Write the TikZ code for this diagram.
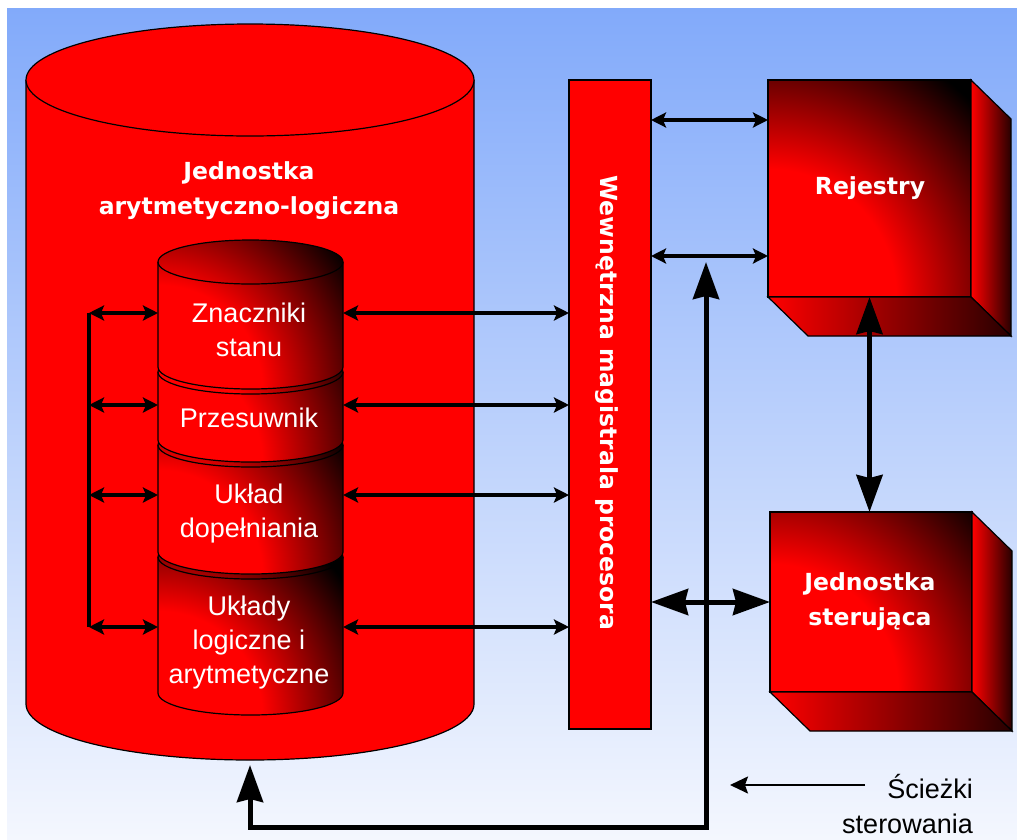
\documentclass[tikz,border=0pt]{standalone}
\usepackage{fontspec}
\setmainfont{Liberation Sans}
\newfontfamily\titlefont{DejaVu Sans}
\usetikzlibrary{arrows.meta}

\definecolor{bgtop}{RGB}{130,170,250}
\definecolor{bgbot}{RGB}{244,247,254}
\definecolor{darkside}{RGB}{40,0,0}

% red core fading to black, used on the shaded faces
% (25bp is the edge of the shaded path)
\pgfdeclareradialshading{glow}{\pgfpoint{0bp}{0bp}}{%
  color(0bp)=(red); color(10bp)=(red); color(22bp)=(black); color(50bp)=(black)}

\tikzset{
  edge/.style={draw=black, line width=1.2pt},
  title/.style={font=\titlefont\bfseries\fontsize{23.5}{35}\selectfont,
    text=white, align=center, inner sep=0pt},
  part/.style={font=\fontsize{27}{34}\selectfont, text=white, align=center, inner sep=0pt},
  legend/.style={font=\fontsize{27}{35}\selectfont, text=black, align=right, inner sep=0pt},
  smalltip/.tip={Stealth[length=15pt,width=15pt,inset=3pt]},
  bigtip/.tip={Stealth[length=37pt,width=26pt,inset=3pt]},
  bus link/.style={line width=3.5pt, smalltip-smalltip},
  ctrl link/.style={line width=5pt, line join=miter, bigtip-bigtip},
  legend link/.style={line width=2pt, -{Stealth[length=18pt,width=17pt,inset=3pt]}},
  block/.style={inner sep=0pt, outer sep=0pt},
}

% one slice of the ALU stack: #1 = top of the sides, #2 = bottom of the sides
\newcommand\drumpart[2]{%
  \begin{scope}
    \clip (158,#1) -- (158,#2) arc[start angle=180,end angle=0,x radius=92.5,y radius=22]
      -- (343,#1) arc[start angle=0,end angle=-180,x radius=92.5,y radius=22] -- cycle;
    \shade[shading=glow] (158,#2+22) circle[radius=260];
  \end{scope}
  \draw[edge] (158,#1) -- (158,#2) arc[start angle=180,end angle=0,x radius=92.5,y radius=22]
    -- (343,#1) arc[start angle=0,end angle=-180,x radius=92.5,y radius=22] -- cycle;
  \draw[edge] (158,#1) arc[start angle=180,end angle=0,x radius=92.5,y radius=22];
}

% a box seen from below right, built around the node #1
\newcommand\crate[1]{%
  \begin{scope}
    \clip (#1.south west) rectangle (#1.north east);
    \shade[shading=glow] (#1.south west) circle[radius=320];
  \end{scope}
  \draw[edge] (#1.south west) rectangle (#1.north east);
  \shadedraw[left color=red, right color=darkside, edge]
    (#1.north east) -- ([shift={(40,39)}]#1.north east)
    -- ([shift={(40,39)}]#1.south east) -- (#1.south east) -- cycle;
  \shadedraw[left color=red, right color=darkside, edge]
    (#1.south west) -- (#1.south east)
    -- ([shift={(40,39)}]#1.south east) -- ([shift={(40,39)}]#1.south west) -- cycle;
}

\begin{document}
\begin{tikzpicture}[x=1pt,y=-1pt]
\useasboundingbox (0,0) rectangle (1017,839);
\fill[white] (0,0) rectangle (1017,839);
\shade[top color=bgtop, bottom color=bgbot] (7,8) rectangle (1017,839);

% arithmetic-logic unit: large cylinder
\fill[red] (26,80) -- (26,704) arc[start angle=180,end angle=0,x radius=224,y radius=56]
  -- (474,80) -- cycle;
\draw[edge] (26,80) -- (26,704) arc[start angle=180,end angle=0,x radius=224,y radius=56]
  -- (474,80);
\filldraw[fill=red, edge] (250,80) ellipse[x radius=224,y radius=56];
\node[title] (alu) at (249,190.5) {Jednostka\\arytmetyczno-logiczna};

% stacked parts, drawn from the bottom up
\drumpart{557}{693}
\drumpart{445}{552}
\drumpart{372}{440}
\drumpart{262}{367}

\node[part] (zn) at (249,330) {Znaczniki\\stanu};
\node[part] (pr) at (249,418) {Przesuwnik};
\node[part] (ud) at (249,513.5) {Układ\\dopełniania};
\node[part] (ul) at (249,642.5) {Układy\\logiczne i\\arytmetyczne};

% ports on the sides of the stack
\coordinate (zn-w) at (158,313); \coordinate (zn-e) at (343,313);
\coordinate (pr-w) at (158,405); \coordinate (pr-e) at (343,405);
\coordinate (ud-w) at (158,495); \coordinate (ud-e) at (343,495);
\coordinate (ul-w) at (158,627); \coordinate (ul-e) at (343,627);
\coordinate (bar) at (89,313);

% internal bus
\node[block, fill=red, edge, minimum width=82pt, minimum height=649pt] (bus) at (610,404.5) {};
\node[title, rotate=-90] (buslabel) at (607,403) {Wewnętrzna magistrala procesora};

% links inside the ALU and to the bus
\draw[line width=4pt] (zn-w -| bar) -- (ul-w -| bar);
\foreach \p in {zn,pr,ud,ul}{
  \draw[bus link] (\p-w -| bar) -- (\p-w);
  \draw[bus link] (\p-e) -- (\p-e -| bus.west);
}

% registers and control unit
\node[block, minimum width=203pt, minimum height=217pt] (reg) at (869.5,188.5) {};
\crate{reg}
\node[title] (reglabel) at (870,188) {Rejestry};

\node[block, minimum width=202pt, minimum height=180pt] (cu) at (871,602) {};
\crate{cu}
\node[title] (culabel) at (870,601.5) {Jednostka\\sterująca};

% bus to registers
\path (reg.north west) ++(0,40) coordinate (reg-in1);
\path (reg.north west) ++(0,176) coordinate (reg-in2);
\draw[bus link] (bus.east |- reg-in1) -- (reg-in1);
\draw[bus link] (bus.east |- reg-in2) -- (reg-in2);

% registers to control unit, bus to control unit
\draw[ctrl link] (reg.south) -- (reg.south |- cu.north);
\draw[ctrl link] (bus.east |- cu.west) -- (cu.west);

% control paths
\coordinate (alu-foot) at (250,765);
\coordinate (ctrl-corner) at (706,827);
\coordinate (ctrl-tip) at (706,262);
\draw[ctrl link] (alu-foot) -- (alu-foot |- ctrl-corner) -- (ctrl-corner) -- (ctrl-tip);

% legend
\coordinate (lg-tail) at (865,785);
\coordinate (lg-tip) at (730,785);
\draw[legend link] (lg-tail) -- (lg-tip);
\node[legend, anchor=east] (lg) at (973,804) {Ścieżki\\sterowania};
\end{tikzpicture}
\end{document}
